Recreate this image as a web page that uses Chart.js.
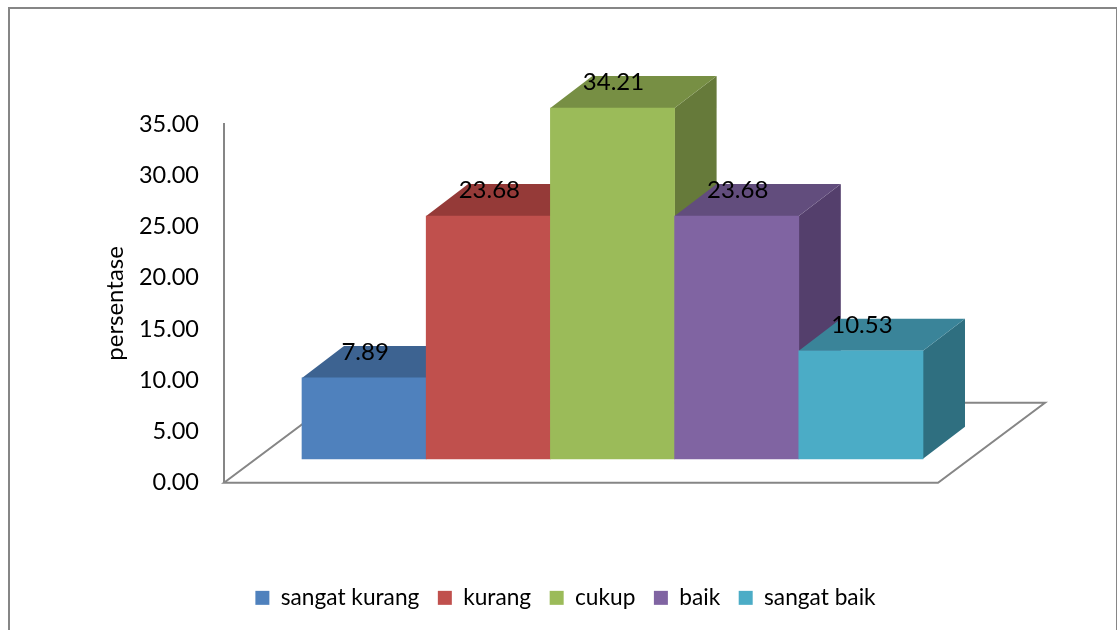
<!DOCTYPE html>
<html>
<head>
<meta charset="utf-8">
<title>persentase</title>
<script src="https://cdn.jsdelivr.net/npm/chart.js@4"></script>
<style>
    html, body { margin: 0; background: #fff; overflow: hidden; }
    #frame { position: absolute; left: 8px; top: 7px; width: 1106px; height: 640px; border: 2px solid #868686; }
    #progress-chart { position: absolute; left: 0; top: 0; }
</style>
</head>
<body>
<div id="frame"></div>
<canvas id="progress-chart" width="1117" height="630"></canvas>
<script>
const categories = ["sangat kurang", "kurang", "cukup", "baik", "sangat baik"];
const values = [7.89, 23.68, 34.21, 23.68, 10.53];

const frontColors = ["#4F81BD", "#C0504D", "#9BBB59", "#8064A2", "#4BACC6"];
const topColors = ["#3D6391", "#953A38", "#778F44", "#624D7D", "#3A8499"];
const sideColors = ["#345580", "#7F3230", "#667A3A", "#543F6C", "#2F6F80"];

const axisColor = "#868686";
const fontName = "Lato, 'Open Sans', sans-serif";

// the box fronts sit this far in from the axis corner
const frontShiftX = 78;
const frontShiftY = -24;
// depth of a box and of the floor
const boxDepthX = 42;
const boxDepthY = -32;
const floorDepthX = 107;
const floorDepthY = -80;
const floorExtra = 93;

// fills one four sided face
function fillFace(ctx, color, pts) {
    ctx.fillStyle = color;
    ctx.beginPath();
    ctx.moveTo(pts[0][0], pts[0][1]);
    for (let i = 1; i < pts.length; i++) {
        ctx.lineTo(pts[i][0], pts[i][1]);
    }
    ctx.closePath();
    ctx.fill();
}

const bars3d = {
    id: "bars3d",
    afterLayout(chart) {
        // legend is centred on its own, not under the plot
        chart.legend.left = 0;
        chart.legend.right = 1131;
        chart.legend.top = 568;
        chart.legend.bottom = 630;
    },
    beforeDatasetsDraw(chart) {
        const ctx = chart.ctx;
        const xScale = chart.scales.x;
        const y0 = chart.scales.y.getPixelForValue(0);

        // floor
        const left = xScale.left;
        const right = xScale.right + floorExtra;
        ctx.save();
        ctx.strokeStyle = axisColor;
        ctx.lineWidth = 2;
        ctx.beginPath();
        ctx.moveTo(left, y0);
        ctx.lineTo(right, y0);
        ctx.lineTo(right + floorDepthX, y0 + floorDepthY);
        ctx.lineTo(left + floorDepthX, y0 + floorDepthY);
        ctx.closePath();
        ctx.stroke();
        ctx.restore();

        // shift everything the bars draw, closed again in afterDatasetsDraw
        ctx.save();
        ctx.translate(frontShiftX, frontShiftY);

        // tops and sides left to right, fronts come from chart.js afterwards
        chart.getDatasetMeta(0).data.forEach((bar, i) => {
            const l = bar.x - bar.width / 2;
            const r = bar.x + bar.width / 2;
            fillFace(ctx, sideColors[i], [
                [r, bar.y], [r + boxDepthX, bar.y + boxDepthY],
                [r + boxDepthX, bar.base + boxDepthY], [r, bar.base],
            ]);
            fillFace(ctx, topColors[i], [
                [l, bar.y], [r, bar.y],
                [r + boxDepthX, bar.y + boxDepthY], [l + boxDepthX, bar.y + boxDepthY],
            ]);
        });
    },
    afterDatasetsDraw(chart) {
        const ctx = chart.ctx;
        ctx.restore();

        // value labels above the fronts
        ctx.save();
        ctx.fillStyle = "#000";
        ctx.font = "24px " + fontName;
        ctx.textAlign = "center";
        ctx.textBaseline = "middle";
        chart.getDatasetMeta(0).data.forEach((bar, i) => {
            ctx.fillText(values[i].toFixed(2), bar.x + frontShiftX + 1, bar.y + frontShiftY - 26);
        });
        ctx.restore();
    },
};

new Chart(document.getElementById("progress-chart").getContext("2d"), {
    type: "bar",
    data: {
        labels: categories,
        datasets: [{
            data: values,
            backgroundColor: frontColors,
            borderWidth: 0,
            barPercentage: 1,
            categoryPercentage: 1,
            clip: false,
        }],
    },
    options: {
        responsive: false,
        animation: false,
        layout: {
            padding: { left: 101, top: 124, right: 272, bottom: 96 },
        },
        scales: {
            x: {
                display: false,
            },
            y: {
                min: 0,
                max: 35,
                afterFit(scale) {
                    scale.width = 123;
                },
                grid: { display: false, drawTicks: false },
                border: { display: true, color: axisColor, width: 2 },
                ticks: {
                    stepSize: 5,
                    padding: 25,
                    color: "#000",
                    font: { family: fontName, size: 23.5 },
                    callback: (value) => value.toFixed(2),
                },
                title: {
                    display: true,
                    text: "persentase",
                    color: "#000",
                    padding: 0,
                    font: { family: fontName, size: 24 },
                },
            },
        },
        plugins: {
            tooltip: { enabled: false },
            legend: {
                position: "bottom",
                onClick: null,
                labels: {
                    boxWidth: 14,
                    boxHeight: 14,
                    padding: 18.5,
                    color: "#000",
                    font: { family: fontName, size: 22.7 },
                    generateLabels: () => categories.map((name, i) => ({
                        text: name,
                        fillStyle: frontColors[i],
                        strokeStyle: frontColors[i],
                        lineWidth: 0,
                        hidden: false,
                        index: i,
                    })),
                },
            },
        },
    },
    plugins: [bars3d],
});
</script>
</body>
</html>
